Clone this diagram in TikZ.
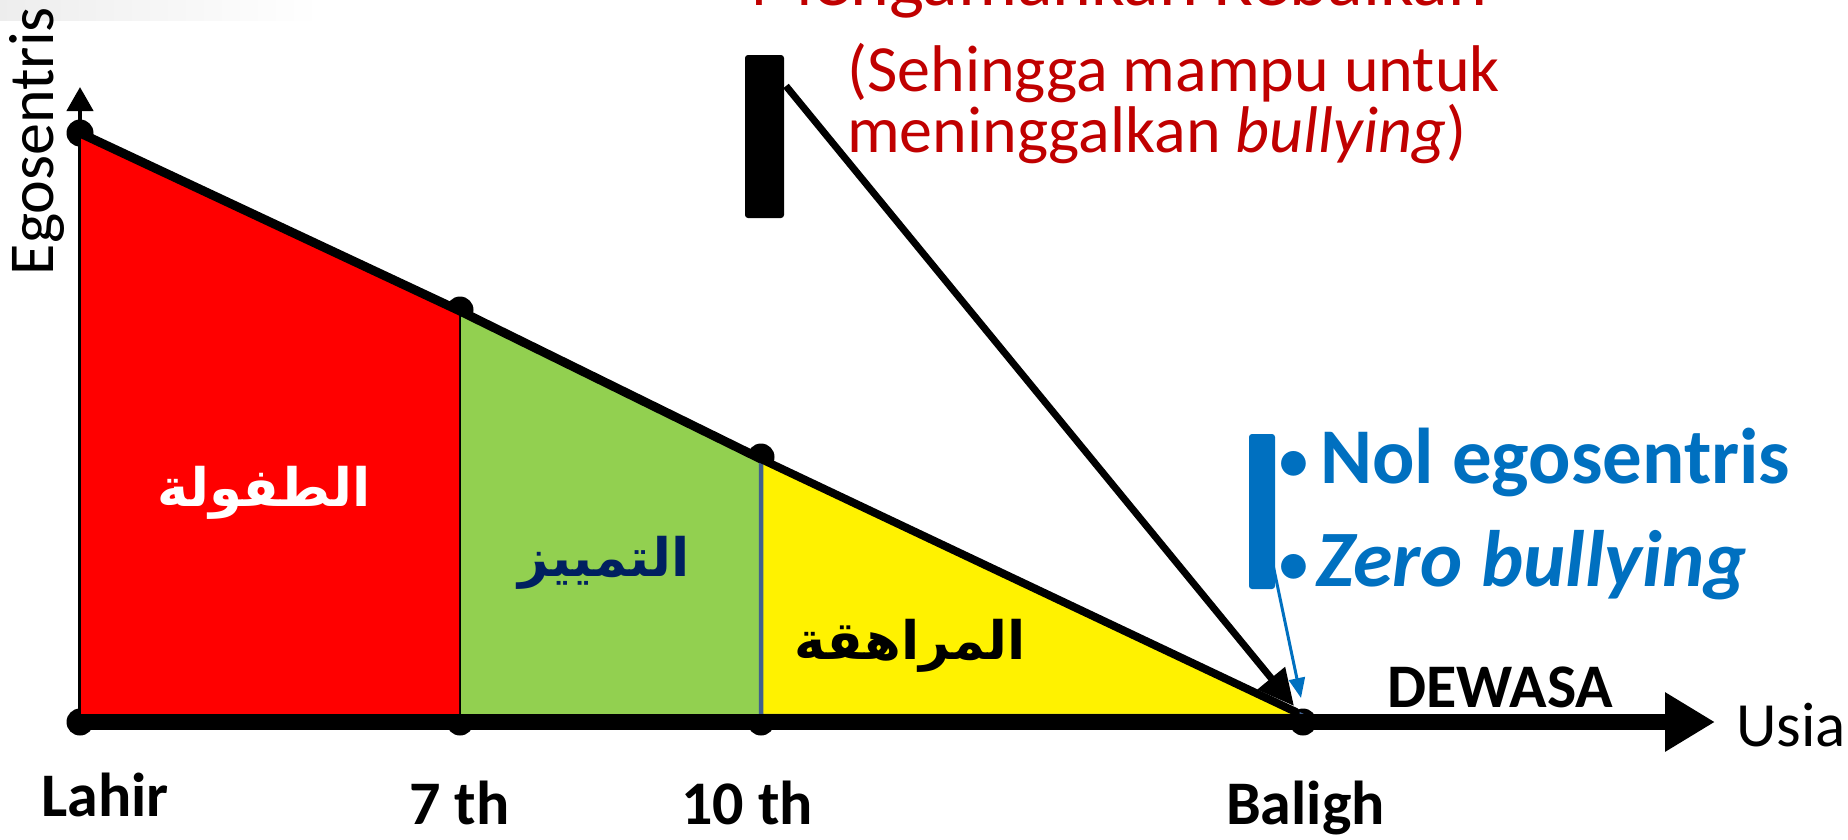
\documentclass[tikz,border=0pt]{standalone}
\usepackage{fontspec}
\setmainfont{Carlito}
\newfontfamily\arabicfont[Script=Arabic]{DejaVu Sans}
\TeXXeTstate=1
\usetikzlibrary{arrows.meta}
\definecolor{dred}{HTML}{C00000}
\definecolor{mblue}{HTML}{0070C0}
\definecolor{lgreen}{HTML}{92D050}
\definecolor{navy}{HTML}{002060}
\definecolor{edgeblue}{HTML}{41608E}
\newcommand{\fs}[1]{\fontsize{#1}{#1}\selectfont}
\begin{document}
\begin{tikzpicture}[x=1pt,y=-1pt,
  txt/.style={inner sep=0pt, anchor=base west},
  dotmark/.style={fill=black, circle, inner sep=0pt, minimum size=27pt},
  barbox/.style={rounded corners=3pt, inner sep=0pt, minimum width=#1},
  arab/.style={inner sep=0pt}]
\useasboundingbox (0,0) rectangle (1848,839);
\clip (0,0) rectangle (1848,839);
\shade[left color=gray!14, right color=white] (0,0) rectangle (320,20);

% key points
\coordinate (A) at (80,133);
\coordinate (B) at (460,311);
\coordinate (C) at (761,459);
\coordinate (D) at (1303,716);
\coordinate (A0) at (80,716);
\coordinate (B0) at (460,716);
\coordinate (C0) at (761,716);
\coordinate (O) at (80,722);
\coordinate (Ytip) at (80,87);
\coordinate (Xtip) at (1715,722);

% y axis
\draw[line width=4.5pt, -{Triangle[length=24pt,width=26pt]}] (O) -- (Ytip);

% dots
\node[dotmark] (dA) at (A) {};
\node[dotmark] (dB) at (460,310) {};
\node[dotmark] (dC) at (761,457) {};
\node[dotmark] (dO) at (80,722) {};
\node[dotmark] (d7) at (460,722) {};
\node[dotmark] (d10) at (761,722) {};
\node[dotmark] (dBal) at (1303,722) {};

% regions
\filldraw[fill=red, draw=black, line width=1.5pt] (A) -- (B) -- (B0) -- (A0) -- cycle;
\filldraw[fill=lgreen, draw=black, line width=1.5pt] (B) -- (C) -- (C0) -- (B0) -- cycle;
\filldraw[fill=yellow, draw=edgeblue, line width=4.5pt, line join=round] (C) -- (D) -- (C0) -- cycle;

% slope line
\draw[line width=9pt, line join=round] (A) -- (B) -- (C);
\draw[line width=8pt, line cap=round] (C) -- (1296,712);

% x axis
\draw[line width=16pt, -{Triangle[length=50pt,width=56pt]}] (O) -- (Xtip);

% Arabic labels
\node[arab, text=white] (tifl) at (264,493) {\arabicfont\bfseries\fs{53}\beginR الطفولة\endR};
\node[arab, text=navy] (tamyiz) at (604,563) {\arabicfont\bfseries\fs{53}\beginR التمييز\endR};
\node[arab, text=black] (murahaqa) at (910,646) {\arabicfont\bfseries\fs{53}\beginR المراهقة\endR};

% axis labels
\node[rotate=90, anchor=base, inner sep=0pt] (ego) at (53,141) {\fs{64}Egosentris};
\node[txt] (usia) at (1736,746) {\fs{63}Usia};
\node[txt] (dewasa) at (1387,707) {\fs{62}\bfseries DEWASA};
\node[txt] (lahir) at (41,816) {\fs{62}\bfseries Lahir};
\node[txt] (t7) at (409,824) {\fs{62}\bfseries 7 th};
\node[txt] (t10) at (681,824) {\fs{62}\bfseries 10 th};
\node[txt] (baligh) at (1226,824) {\fs{62}\bfseries Baligh};

% red text
\node[txt, text=dred] (top) at (750,5) {\fs{74}Mengamankan Kebaikan};
\node[txt, text=dred] (red1) at (847,91) {\fs{66}(Sehingga mampu untuk};
\node[txt, text=dred] (red2) at (847,152) {\fs{66}meninggalkan \textit{bullying})};

% black bar and arrow
\node[barbox=39pt, minimum height=163pt, fill=black] (kbar) at (764.5,136.5) {};
\coordinate (kstart) at (786,86);
\draw[line width=7pt, -{Triangle[length=36pt,width=34pt]}] (kstart) -- (1294,706);

% blue bar and arrow
\node[barbox=26pt, minimum height=155pt, fill=mblue] (bbar) at (1262,511.5) {};
\coordinate (bstart) at (1272,560);
\coordinate (btip) at (1301,698);
\draw[mblue, line width=3pt, -{Triangle[length=20pt,width=16pt]}] (bstart) -- (btip);

% blue bullets
\node[anchor=base, inner sep=0pt, text=mblue] (b1) at (1294,483) {\fs{70}•};
\node[txt, text=mblue] (nol) at (1320,483) {\fs{79}\bfseries Nol egosentris};
\node[anchor=base, inner sep=0pt, text=mblue] (b2) at (1294,586) {\fs{70}•};
\node[txt, text=mblue] (zero) at (1316,586) {\fs{80}\bfseries\itshape Zero bullying};
\end{tikzpicture}
\end{document}
